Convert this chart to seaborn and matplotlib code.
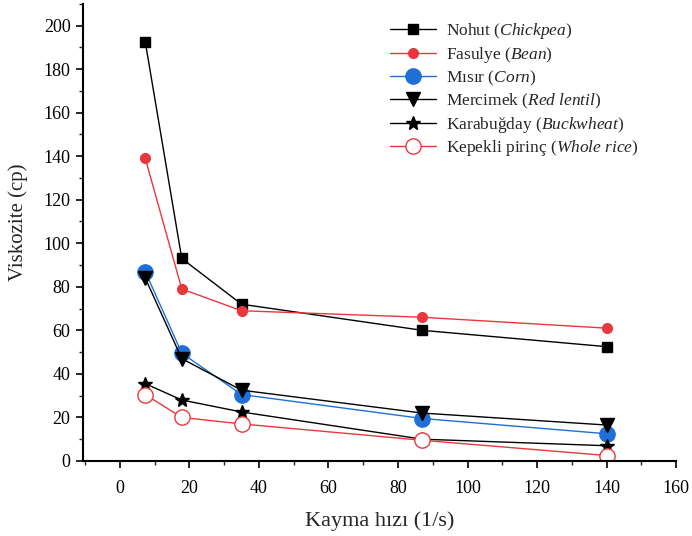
import numpy as np
import pandas as pd
import matplotlib
matplotlib.use("Agg")
import matplotlib.pyplot as plt
from matplotlib.ticker import MultipleLocator
import seaborn as sns

shear_rate = [7.3, 17.8, 35, 87, 140]

nohut = [192.5, 93, 72, 60, 52.5]
fasulye = [139, 79, 69, 66, 61]
misir = [87, 49.5, 30.5, 19.5, 12.5]
mercimek = [84, 47, 32.5, 22, 16.5]
karabugday = [35.5, 28, 22.5, 10, 7]
kepekli = [30.5, 20, 17, 9.5, 2.5]

labels = [
    r"Nohut ($\mathit{Chickpea}$)",
    r"Fasulye ($\mathit{Bean}$)",
    r"Mısır ($\mathit{Corn}$)",
    r"Mercimek ($\mathit{Red\ lentil}$)",
    r"Karabuğday ($\mathit{Buckwheat}$)",
    r"Kepekli pirinç ($\mathit{Whole\ rice}$)",
]

sns.set_style("ticks")
plt.rcParams["font.family"] = ["Liberation Serif", "DejaVu Serif"]
plt.rcParams["mathtext.fontset"] = "custom"
plt.rcParams["mathtext.rm"] = "Liberation Serif"
plt.rcParams["mathtext.it"] = "Liberation Serif:italic"

red = "#e8383d"
blue = "#1f6fd6"
styles = [
    dict(color="black", marker="s", markersize=7, markerfacecolor="black", markeredgecolor="black"),
    dict(color=red, marker="o", markersize=7, markerfacecolor=red, markeredgecolor=red),
    dict(color=blue, marker="o", markersize=11, markerfacecolor=blue, markeredgecolor=blue),
    dict(color="black", marker="v", markersize=10, markerfacecolor="black", markeredgecolor="black"),
    dict(color="black", marker="*", markersize=10, markerfacecolor="black", markeredgecolor="black"),
    dict(color=red, marker="o", markersize=11, markerfacecolor="white", markeredgecolor=red),
]
series = [nohut, fasulye, misir, mercimek, karabugday, kepekli]

fig = plt.figure(figsize=(6.92, 5.36), dpi=100)
ax = fig.add_axes([0.12, 0.14, 0.857, 0.853])

for vals, lab, st in zip(series, labels, styles):
    df = pd.DataFrame({"x": shear_rate, "y": vals})
    sns.lineplot(data=df, x="x", y="y", ax=ax, label=lab, linewidth=1.0,
                 markeredgewidth=1.0, **st)

ax.set_xlim(-10.6, 160)
ax.set_ylim(0, 210)
ax.xaxis.set_major_locator(MultipleLocator(20))
ax.xaxis.set_minor_locator(MultipleLocator(10))
ax.yaxis.set_major_locator(MultipleLocator(20))
ax.yaxis.set_minor_locator(MultipleLocator(10))
ax.tick_params(axis="both", which="major", direction="out", length=5, width=1.2,
               labelsize=13, colors="black", pad=4)
ax.tick_params(axis="x", which="major", pad=9)
ax.tick_params(axis="both", which="minor", direction="out", length=3, width=1.0)
for s in ["left", "bottom"]:
    ax.spines[s].set_linewidth(1.5)
    ax.spines[s].set_color("black")
sns.despine(ax=ax)

ax.set_xlabel("Kayma hızı (1/s)", fontsize=16, labelpad=10)
ax.set_ylabel("Viskozite (cp)", fontsize=15)
ax.yaxis.set_label_coords(-0.093, 0.522)

leg = ax.legend(loc="upper left", bbox_to_anchor=(0.553, 0.974),
                bbox_transform=fig.transFigure, borderaxespad=0, frameon=False,
                fontsize=12.5, handlelength=2.7, labelspacing=0.22,
                handletextpad=0.55)

fig.savefig("out.png", dpi=100)
